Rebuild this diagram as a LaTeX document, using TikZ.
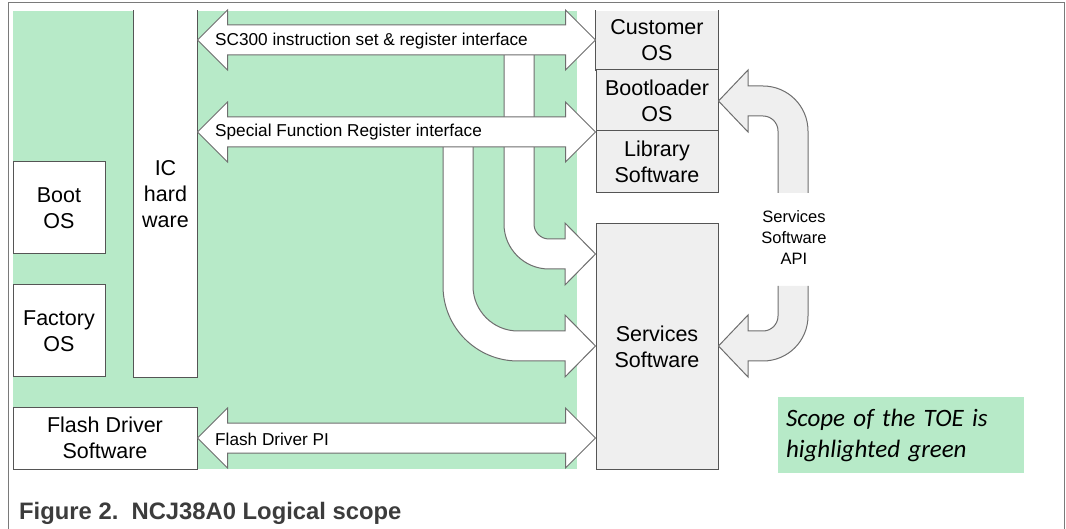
\documentclass[tikz,border=0pt]{standalone}
\usepackage{fontspec}
\setmainfont{Liberation Sans}
\newfontfamily\toefont{Carlito}
\definecolor{toegreen}{HTML}{B7EAC8}
\definecolor{boxgray}{HTML}{EFEFEF}
\definecolor{boxline}{HTML}{555555}
\definecolor{arrline}{HTML}{6E6E6E}
\definecolor{frameline}{HTML}{7A7A7A}
\definecolor{captext}{HTML}{3C3C3C}
\tikzset{
    mybox/.style = {rectangle, draw=boxline, line width=1pt, fill=white, align=center, inner sep=0pt, font=\fontsize{21.5}{26}\selectfont},
    myboxg/.style = {mybox, fill=boxgray},
    openbox/.style = {mybox, draw=none},
    boxedge/.style = {draw=boxline, line width=1pt},
    blkw/.style = {draw=arrline, line width=1pt, fill=white},
    blkg/.style = {blkw, fill=boxgray},
    lbl/.style = {anchor=west, inner sep=0pt, font=\fontsize{17.2}{20}\selectfont},
    api/.style = {align=center, inner sep=0pt, font=\fontsize{16.5}{21}\selectfont},
    toebox/.style = {rectangle, fill=toegreen, inner sep=8pt, text width=230, align=left, font=\toefont\itshape\fontsize{25}{31}\selectfont},
    frame/.style = {draw=frameline, line width=1pt}
}
\newcommand{\dblarr}[2]{%
  \draw[blkw] (#1) -- ([shift={(30,-30)}]#1) -- ([shift={(30,-15)}]#1)
    -- ([shift={(-30,-15)}]#2) -- ([shift={(-30,-30)}]#2) -- (#2)
    -- ([shift={(-30,30)}]#2) -- ([shift={(-30,15)}]#2)
    -- ([shift={(30,15)}]#1) -- ([shift={(30,30)}]#1) -- cycle;}
\begin{document}
\begin{tikzpicture}[x=1pt,y=-1pt]
\useasboundingbox (0,0) rectangle (1066,529);
\fill[toegreen] (13,11) rectangle (577,469);
\draw[frame] (8,529) -- (8,3) -- (1064,3) -- (1064,529);
%
\node[mybox, minimum width=92, minimum height=92] at (59,208) (boot) {Boot\\OS};
\node[mybox, minimum width=92, minimum height=92] at (59,331) (fac) {Factory\\OS};
\node[openbox, minimum width=63, minimum height=366] at (165.5,194) (ic) {IC\\hard\\ware};
\draw[boxedge] (ic.north west) -- (ic.south west) -- (ic.south east) -- (ic.north east);
\node[mybox, minimum width=184, minimum height=62] at (105,438) (fds) {Flash Driver\\Software};
\node[openbox, fill=boxgray, minimum width=122, minimum height=59] at (657,40.5) (cos) {Customer\\OS};
\draw[boxedge] (cos.north west) -- (cos.south west) -- (cos.south east) -- (cos.north east);
\node[myboxg, minimum width=122, minimum height=61] at (657,100.5) (bl) {Bootloader\\OS};
\node[myboxg, minimum width=122, minimum height=62] at (657,162) (lib) {Library\\Software};
\node[myboxg, minimum width=122, minimum height=245] at (657,346.5) (svc) {Services\\Software};
\node[toebox, minimum width=246, minimum height=76] at (901,435) (toe) {Scope of the TOE is\\highlighted green};
%
\draw[blkw] (504,40) -- (504,224) arc[start angle=180, end angle=90, radius=45] -- (565,269)
  -- (565,285) -- (svc.west |- 0,254) -- (565,223) -- (565,239) -- (549,239)
  arc[start angle=90, end angle=180, radius=15] -- (534,40) -- cycle;
\draw[blkw] (443,132) -- (443,286) arc[start angle=180, end angle=90, radius=75] -- (565,361)
  -- (565,377) -- (svc.west |- 0,346) -- (565,315) -- (565,331) -- (518,331)
  arc[start angle=90, end angle=180, radius=45] -- (473,132) -- cycle;
%
\coordinate (scl) at (ic.east |- 0,40);
\coordinate (scr) at (cos.west |- scl);
\coordinate (sfl) at (ic.east |- 0,132);
\coordinate (sfr) at (bl.west |- sfl);
\coordinate (fdl) at (fds.east);
\coordinate (fdr) at (svc.west |- fdl);
\dblarr{scl}{scr}
\dblarr{sfl}{sfr}
\dblarr{fdl}{fdr}
%
\draw[blkg] (778,193) -- (778,131) arc[start angle=0, end angle=-90, radius=15] -- (748,116)
  -- (748,132) -- (bl.east |- 0,101) -- (748,70) -- (748,86) -- (763,86)
  arc[start angle=-90, end angle=0, radius=45] -- (808,193);
\draw[blkg] (778,286) -- (778,316) arc[start angle=0, end angle=90, radius=15] -- (748,331)
  -- (748,315) -- (svc.east |- 0,346) -- (748,377) -- (748,361) -- (763,361)
  arc[start angle=90, end angle=0, radius=45] -- (808,286);
%
\node[lbl] (sct) at (215,41.5) {SC300 instruction set \& register interface};
\node[lbl] (sft) at (215,132.5) {Special Function Register interface};
\node[lbl] (fdt) at (215,439) {Flash Driver PI};
\node[api] (apit) at (794,238) {Services\\Software\\API};
\node[anchor=base west, inner sep=0pt, text=captext, font=\bfseries\fontsize{23.8}{28}\selectfont] (cap) at (19,519) {Figure 2.\ \ NCJ38A0 Logical scope};
\end{tikzpicture}
\end{document}
